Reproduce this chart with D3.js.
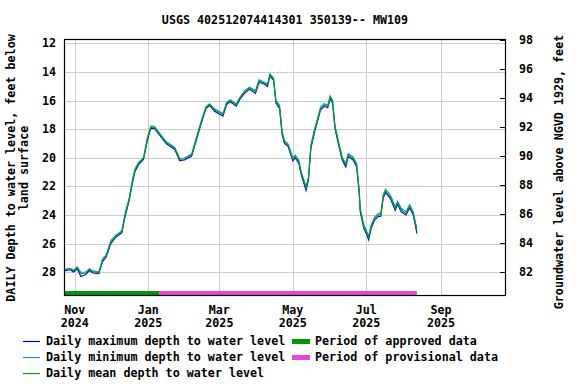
<!DOCTYPE html>
<html><head><meta charset="utf-8">
<script src="https://cdn.jsdelivr.net/npm/d3@7"></script>
<style>
html,body{margin:0;padding:0;background:#fff;}
svg text{font-family:"DejaVu Sans Mono",monospace;font-weight:bold;font-size:11.7px;fill:#000;}
</style></head>
<body><svg id="c" width="576" height="384"></svg>
<script>
const title = "USGS 402512074414301 350139-- MW109";
const dates = ["2024-10-23","2024-10-28","2024-10-31","2024-11-03","2024-11-06","2024-11-10","2024-11-13","2024-11-16","2024-11-21","2024-11-24","2024-11-27","2024-12-01","2024-12-05","2024-12-10","2024-12-13","2024-12-16","2024-12-19","2024-12-21","2024-12-24","2024-12-28","2024-12-31","2025-01-03","2025-01-06","2025-01-11","2025-01-16","2025-01-23","2025-01-27","2025-01-31","2025-02-06","2025-02-10","2025-02-14","2025-02-18","2025-02-21","2025-02-25","2025-03-04","2025-03-07","2025-03-10","2025-03-15","2025-03-18","2025-03-22","2025-03-26","2025-03-31","2025-04-03","2025-04-08","2025-04-10","2025-04-12","2025-04-15","2025-04-17","2025-04-20","2025-04-22","2025-04-24","2025-04-27","2025-05-01","2025-05-03","2025-05-06","2025-05-08","2025-05-12","2025-05-14","2025-05-16","2025-05-19","2025-05-22","2025-05-24","2025-05-27","2025-05-30","2025-06-01","2025-06-03","2025-06-05","2025-06-08","2025-06-11","2025-06-14","2025-06-16","2025-06-20","2025-06-23","2025-06-25","2025-06-26","2025-06-29","2025-07-01","2025-07-03","2025-07-05","2025-07-08","2025-07-11","2025-07-13","2025-07-15","2025-07-17","2025-07-21","2025-07-25","2025-07-27","2025-07-30","2025-08-03","2025-08-06","2025-08-09","2025-08-11","2025-08-12"];
const meanDepth = [27.84,27.75,27.90,27.68,28.10,28.05,27.80,27.96,28.03,27.14,26.86,25.86,25.47,25.17,23.88,22.95,21.55,20.85,20.39,20.04,18.76,17.85,17.87,18.41,18.95,19.34,20.10,20.08,19.80,18.64,17.48,16.47,16.28,16.66,16.98,16.19,16.01,16.31,15.84,15.38,15.14,15.38,14.62,14.80,14.91,14.21,14.50,16.08,16.43,18.20,18.88,19.10,20.10,19.90,20.27,21.08,22.13,21.43,19.22,18.10,17.20,16.55,16.31,16.40,15.75,16.08,17.83,18.99,20.04,20.50,19.80,20.04,20.50,22.25,23.65,24.82,25.17,25.56,24.82,24.23,24.00,24.00,22.72,22.30,22.72,23.53,23.14,23.65,23.88,23.37,23.88,24.70,25.05];
const maxDepth = [27.90,27.82,27.98,27.75,28.30,28.15,27.88,28.05,28.10,27.25,26.95,25.98,25.55,25.25,24.00,23.05,21.68,20.95,20.48,20.12,18.88,17.93,17.95,18.48,19.02,19.42,20.20,20.16,19.88,18.75,17.58,16.55,16.35,16.75,17.10,16.28,16.08,16.40,15.92,15.48,15.22,15.50,14.72,14.88,15.02,14.30,14.60,16.20,16.55,18.32,19.00,19.20,20.22,20.00,20.40,21.20,22.30,21.55,19.35,18.22,17.30,16.67,16.40,16.50,15.86,16.18,17.95,19.10,20.15,20.65,19.92,20.15,20.62,22.40,23.80,24.95,25.30,25.75,24.95,24.35,24.10,24.10,22.85,22.42,22.85,23.68,23.25,23.78,24.00,23.50,24.00,24.85,25.30];
const minDepth = [27.80,27.70,27.85,27.62,28.00,27.98,27.74,27.90,27.97,27.05,26.78,25.76,25.40,25.10,23.78,22.86,21.45,20.77,20.32,19.97,18.66,17.78,17.80,18.35,18.88,19.27,20.03,20.01,19.73,18.55,17.40,16.40,16.22,16.58,16.90,16.12,15.94,16.24,15.77,15.30,15.07,15.30,14.54,14.73,14.83,14.13,14.42,15.98,16.33,18.10,18.78,19.02,20.00,19.82,20.16,20.98,22.00,21.32,19.10,18.00,17.10,16.45,16.22,16.32,15.66,15.99,17.72,18.89,19.94,20.38,19.70,19.94,20.38,22.12,23.52,24.70,25.05,25.45,24.70,24.12,23.90,23.90,22.60,22.18,22.60,23.40,23.03,23.53,23.76,23.26,23.76,24.58,24.90];
const leftTicks = [12,14,16,18,20,22,24,26,28];
const rightTicks = [82,84,86,88,90,92,94,96,98];
const xTickDates = ["2024-11-01","2025-01-01","2025-03-01","2025-05-01","2025-07-01","2025-09-01"];
const approvedPeriod = ["2024-10-23","2025-01-10"];
const provisionalPeriod = ["2025-01-10","2025-08-12"];
const colors = {max:"#0000ff", min:"#1e8fdc", mean:"#00a000", approved:"#009900", provisional:"#e845dd", grid:"#cccccc"};

const P = d3.utcParse("%Y-%m-%d");
const svg = d3.select("#c");
const L=64, R=506, T=39, B=296;
const x = d3.scaleUtc().domain([P("2024-10-23"), P("2025-10-25")]).range([L,R]);
const y = d3.scaleLinear().domain([12,28]).range([43.3,272.3]);
const yR = d3.scaleLinear().domain([98,82]).range([40,272.3]);

// grid
const g = svg.append("g");
g.selectAll("line.h").data(leftTicks).enter().append("line")
  .attr("x1",L).attr("x2",R).attr("y1",d=>Math.round(y(d))+0.5).attr("y2",d=>Math.round(y(d))+0.5)
  .attr("stroke",colors.grid).attr("stroke-width",1);
g.selectAll("line.v").data(xTickDates).enter().append("line")
  .attr("y1",T).attr("y2",B).attr("x1",d=>Math.round(x(P(d)))+0.5).attr("x2",d=>Math.round(x(P(d)))+0.5)
  .attr("stroke",colors.grid).attr("stroke-width",1);

// period bars
const bars = [[approvedPeriod,colors.approved],[provisionalPeriod,colors.provisional]];
svg.selectAll("rect.p").data(bars).enter().append("rect")
  .attr("x",d=>x(P(d[0][0]))).attr("width",d=>x(P(d[0][1]))-x(P(d[0][0])))
  .attr("y",291).attr("height",4).attr("fill",d=>d[1]);

// lines
const pts = arr => arr.map((v,i)=>[P(dates[i]),v]);
const line = d3.line().x(d=>x(d[0])).y(d=>y(d[1]));
[[maxDepth,colors.max],[minDepth,colors.min],[meanDepth,colors.mean]].forEach(([arr,c])=>{
  svg.append("path").attr("d",line(pts(arr))).attr("fill","none").attr("stroke",c).attr("stroke-width",1.1);
});

// frame
svg.append("rect").attr("x",L+0.5).attr("y",T+0.5).attr("width",R-L-1).attr("height",B-T-1)
  .attr("fill","none").attr("stroke","#000").attr("stroke-width",1.2);

// right ticks
svg.selectAll("line.rt").data(rightTicks).enter().append("line")
  .attr("x1",R-6).attr("x2",R).attr("y1",d=>Math.round(yR(d))+0.5).attr("y2",d=>Math.round(yR(d))+0.5)
  .attr("stroke","#000");

// tick labels
svg.selectAll("text.lt").data(leftTicks).enter().append("text")
  .attr("x",56).attr("y",d=>y(d)+4).attr("text-anchor","end").text(d=>d);
svg.selectAll("text.rt").data(rightTicks).enter().append("text")
  .attr("x",519).attr("y",d=>yR(d)+4).attr("text-anchor","start").text(d=>d);

const mfmt = d3.utcFormat("%b"), yfmt = d3.utcFormat("%Y");
xTickDates.forEach(s=>{
  const d=P(s), cx=x(d);
  svg.append("text").attr("x",cx).attr("y",314).attr("text-anchor","middle").text(mfmt(d));
  svg.append("text").attr("x",cx).attr("y",327).attr("text-anchor","middle").text(yfmt(d));
});

// title
svg.append("text").attr("x",(L+R)/2).attr("y",24).attr("text-anchor","middle").text(title);

// axis titles
svg.append("text").attr("transform","translate(15,168) rotate(-90)").attr("text-anchor","middle")
  .text("DAILY Depth to water level, feet below");
svg.append("text").attr("transform","translate(28,168) rotate(-90)").attr("text-anchor","middle")
  .text("land surface");
svg.append("text").attr("transform","translate(563,172) rotate(-90)").attr("text-anchor","middle")
  .text("Groundwater level above NGVD 1929, feet");

// legend
const leg = [
  {x:23,y:341,type:"line",c:colors.max,t:"Daily maximum depth to water level"},
  {x:23,y:357,type:"line",c:colors.min,t:"Daily minimum depth to water level"},
  {x:23,y:373,type:"line",c:colors.mean,t:"Daily mean depth to water level"},
  {x:292,y:341,type:"bar",c:colors.approved,t:"Period of approved data"},
  {x:292,y:357,type:"bar",c:colors.provisional,t:"Period of provisional data"}
];
leg.forEach(e=>{
  if(e.type==="line"){
    svg.append("line").attr("x1",e.x).attr("x2",e.x+17).attr("y1",e.y+0.5).attr("y2",e.y+0.5).attr("stroke",e.c).attr("stroke-width",1.2);
  } else {
    svg.append("rect").attr("x",e.x).attr("y",e.y-2).attr("width",18).attr("height",5).attr("fill",e.c);
  }
  svg.append("text").attr("x",e.x+23).attr("y",e.y+4).text(e.t);
});
</script></body></html>
